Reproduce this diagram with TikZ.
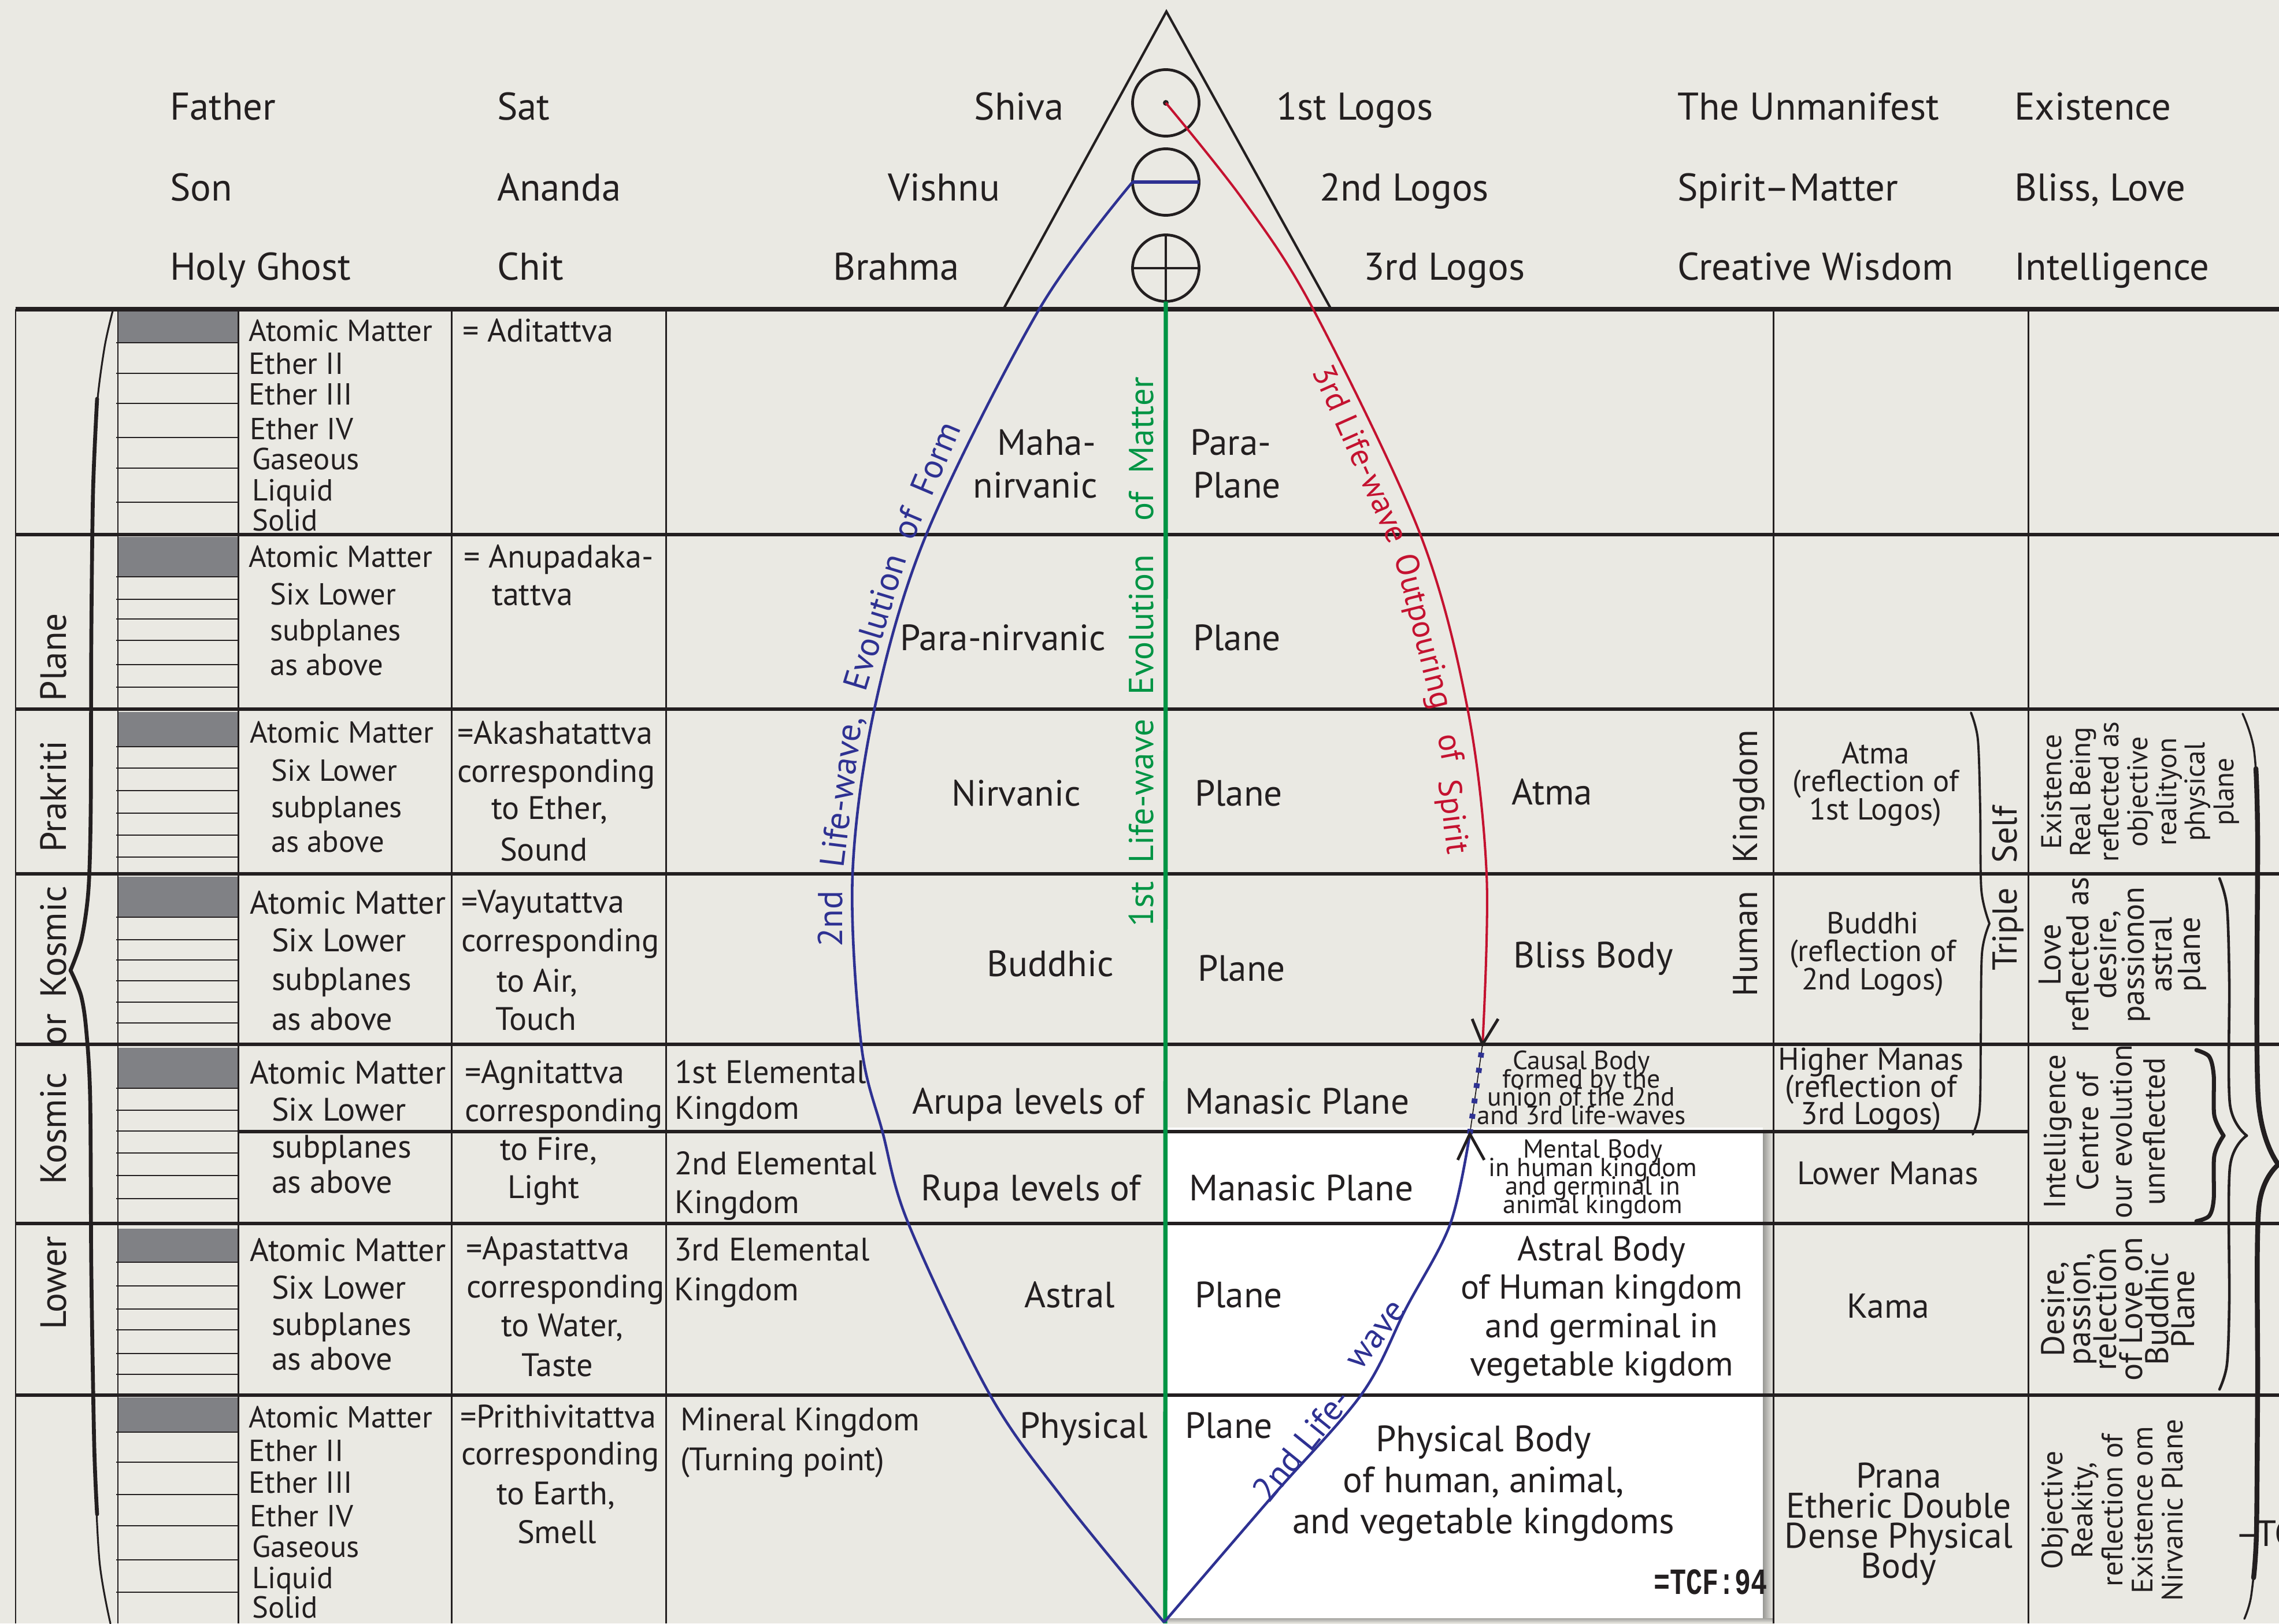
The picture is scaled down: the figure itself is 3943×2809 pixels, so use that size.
\documentclass[tikz,border=0pt]{standalone}
\usepackage{fontspec}
\usepackage{graphicx}
\setmainfont{PT Sans}
\newfontfamily\tcffont{Liberation Mono}
\definecolor{paper}{RGB}{234,233,227}
\definecolor{ink}{RGB}{35,31,32}
\definecolor{wavblue}{RGB}{46,49,146}
\definecolor{wavred}{RGB}{196,18,48}
\definecolor{wavgreen}{RGB}{0,148,68}
\definecolor{bargrey}{RGB}{128,129,133}
% font size with a fixed line pitch, even where lines come closer than their height
\newcommand{\fsz}[2]{\fontsize{#1pt}{#2pt}\selectfont\lineskiplimit=-100pt\lineskip=0pt}

\begin{document}
\begin{tikzpicture}[x=0.01cm, y=-0.01cm,
  every node/.style={inner sep=0pt, outer sep=0pt, text=ink},
  t19/.style={font=\fsz{19}{22}, text height=13.3pt, text depth=0pt},
  t18/.style={font=\fsz{18}{21}, text height=12.6pt, text depth=0pt},
  t17/.style={font=\fsz{17}{20}, text height=11.9pt, text depth=0pt},
  t16/.style={font=\fsz{16}{19}, text height=11.2pt, text depth=0pt},
  t15/.style={font=\fsz{15}{18}, text height=10.5pt, text depth=0pt},
  block/.style={align=center},
  rowline/.style={draw=ink, line width=1.45pt},
  colline/.style={draw=ink, line width=0.85pt},
  subline/.style={draw=ink, line width=0.6pt},
  symline/.style={draw=ink, line width=1.35pt},
  tipline/.style={draw=ink, line width=1.4pt},
  brace/.style={draw=ink, line cap=round, line join=round},
  sym/.style={circle, draw=ink, line width=1.35pt, minimum size=1.15cm},
  bluewave/.style={text=wavblue, font=\fsz{17}{20}, text height=11.9pt, text depth=0pt},
  redwave/.style={text=wavred, font=\fsz{16}{19}, text height=11.2pt, text depth=0pt},
  greenwave/.style={text=wavgreen, font=\fsz{17}{20}, text height=11.9pt, text depth=0pt},
]
\useasboundingbox (0,0) rectangle (3943,2809);
\fill[paper] (0,0) rectangle (3943,2809);

% white panel of the bodies, with its soft shadow
\shade[left color=black!35!paper, right color=paper] (3050,1955) rectangle (3068,2806);
\shade[top color=black!30!paper, bottom color=paper] (2020,2800) rectangle (3068,2809);
\fill[white] (2016,1951) rectangle (3050,2800);

% grey atomic subplanes
\foreach \a/\b in {537/593, 929/998, 1232/1292, 1517/1587, 1813/1883, 2126/2184, 2418/2478}
  \fill[bargrey] (205,\a) rectangle (411,\b);

% subplane rulings
\foreach \y in {593,646,698,757,810,869, 998,1037,1071,1108,1150,1189,
                1292,1329,1368,1407,1445,1483, 1587,1626,1661,1697,1734,1770,
                1883,1921,1957,1995,2034,2074, 2184,2225,2265,2301,2342,2378,
                2478,2530,2586,2640,2699,2755}
  \draw[subline] (201,\y) -- (412,\y);

% table columns
\foreach \x in {27,781,1152,3068,3509}
  \draw[colline] (\x,535) -- (\x,2809);
\draw[subline] (204,535) -- (204,2809);
\draw[colline] (412,535) -- (412,2809);

% table rows
\draw[ink, line width=2pt] (27,535) -- (3943,535);
\foreach \y in {925,1227,1512,1807,2117,2414}
  \draw[rowline] (27,\y) -- (3943,\y);
\draw[rowline] (412,1958) -- (3509,1958);

% triangle with the three symbols
\coordinate (apex) at (2018,20);
\coordinate (baseL) at (1736,535);
\coordinate (baseR) at (2303,535);
\draw[ink, line width=1.2pt] (baseL) -- (apex) -- (baseR);
\node[sym] (s1) at (2017,178) {};
\node[sym] (s2) at (2017,315) {};
\node[sym] (s3) at (2017,464) {};
\fill[ink] (s1.center) circle (0.05cm);
\draw[symline] (s3.north) -- (s3.south);
\draw[symline] (s3.west) -- (s3.east);

% life-waves
\coordinate (vbot) at (2014,2807);
\coordinate (lam) at (2543,1962);
\coordinate (vee) at (2565,1807);
\coordinate (gbot) at (2016,2809);
\draw[wavgreen, line width=2.1pt] (s3.south) -- (gbot);
\draw[wavblue, line width=1.6pt] (s2.west) -- (s2.east);
\draw[wavblue, line width=1.3pt] plot[smooth, tension=0.55] coordinates
  {(s2.west) (1798,535) (1603,924) (1513,1226) (1475,1513) (1490,1807)
   (1527,1959) (1572,2118) (1712,2412) (1840,2594) (vbot)};
\draw[wavblue, line width=1.3pt] plot[smooth, tension=0.55] coordinates
  {(vbot) (2197,2594) (2356,2412) (2433,2263) (2509,2118) (lam)};
\draw[wavred, line width=1.15pt] plot[smooth, tension=0.55] coordinates
  {(s1.center) (2150,345) (2272,535) (2457,924) (2539,1226) (2572,1513) (vee)};
\draw[ink, line width=0.5pt] (lam) -- (vee);
\draw[wavblue, line width=2.8pt, dash pattern=on 2.4pt off 5.2pt] (lam) -- (vee);
\draw[tipline] (2547,1763) -- (vee) -- (2592,1763);
\draw[tipline] (2522,2007) -- (lam) -- (2568,2007);

% braces
\draw[brace, line width=0.9pt] plot[smooth] coordinates
  {(195,538) (181,600) (168,700) (161,850) (158,1100) (157,1400) (153,1540) (141,1625) (122,1679)};
\draw[brace, line width=0.9pt] plot[smooth] coordinates
  {(122,1679) (140,1722) (149,1780) (156,1900) (158,2200) (163,2500) (172,2700) (191,2809)};
\draw[brace, line width=1.9pt] plot[smooth] coordinates
  {(168,690) (161,850) (158,1100) (157,1400) (153,1540) (141,1625) (122,1679)};
\draw[brace, line width=1.9pt] plot[smooth] coordinates
  {(122,1679) (140,1722) (149,1780) (156,1900) (158,2200) (163,2500) (168,2620)};

\draw[brace, line width=1.1pt] plot[smooth] coordinates
  {(3410,1233) (3422,1280) (3426,1400) (3428,1540) (3442,1598)};
\draw[brace, line width=1.1pt] plot[smooth] coordinates
  {(3442,1598) (3429,1650) (3427,1800) (3425,1920) (3413,1963)};

\draw[brace, line width=2pt] plot[smooth] coordinates
  {(3800,1817) (3822,1828) (3830,1860) (3831,1930) (3847,1965)};
\draw[brace, line width=2pt] plot[smooth] coordinates
  {(3847,1965) (3831,2000) (3830,2075) (3822,2104) (3800,2113)};

\draw[brace, line width=1.3pt] plot[smooth] coordinates
  {(3840,1520) (3853,1570) (3857,1700) (3858,1910) (3887,1965)};
\draw[brace, line width=1.3pt] plot[smooth] coordinates
  {(3887,1965) (3858,2020) (3857,2250) (3853,2360) (3840,2404)};

\draw[brace, line width=1pt] plot[smooth] coordinates
  {(3880,1235) (3900,1300) (3906,1450) (3907,1900) (3942,2015)};
\draw[brace, line width=1pt] plot[smooth] coordinates
  {(3942,2015) (3908,2090) (3906,2400) (3904,2650) (3895,2760) (3883,2801)};
\draw[brace, line width=2.4pt] plot[smooth] coordinates
  {(3903,1330) (3906,1450) (3907,1900) (3942,2015)};
\draw[brace, line width=2.4pt] plot[smooth] coordinates
  {(3942,2015) (3908,2090) (3906,2400) (3904,2650) (3899,2730)};

% heading rows
\foreach \t/\x/\y [count=\i] in {Father/294/184, Son/294/324, Holy Ghost/294/461,
    Sat/860/184, Ananda/860/324, Chit/860/461,
    1st Logos/2208/184, 2nd Logos/2283/324, 3rd Logos/2359/461,
    The Unmanifest/2902/184, Spirit--Matter/2902/324, Creative Wisdom/2902/461,
    Existence/3485/184, {Bliss, Love}/3485/324, Intelligence/3485/461}
  \node[t19, anchor=west] (hd\i) at (\x,\y) {\t};
\foreach \t/\x/\y [count=\i] in {Shiva/1841/184, Vishnu/1730/324, Brahma/1660/461}
  \node[t19, anchor=east] (god\i) at (\x,\y) {\t};

% kosmic planes label
\foreach \t/\y [count=\i] in {Plane/1137, Prakriti/1378, Kosmic/1630, or/1782, Kosmic/1953, Lower/2220}
  \node[t18, rotate=90] (kp\i) at (92,\y) {\t};

% subplanes
\foreach \t/\x/\y [count=\i] in {Atomic Matter/430/572, Ether II/430/629, Ether III/430/682,
    Ether IV/432/742, Gaseous/436/794, Liquid/436/848, Solid/436/900,
    Atomic Matter/430/963, Six Lower/467/1028, subplanes/467/1090, as above/467/1150,
    Atomic Matter/432/1267, Six Lower/469/1333, subplanes/469/1396, as above/469/1456,
    Atomic Matter/430/2452, Ether II/430/2510, Ether III/430/2565,
    Ether IV/432/2623, Gaseous/436/2676, Liquid/436/2730, Solid/436/2781}
  \node[t15, anchor=west] (sa\i) at (\x,\y) {\t};
\foreach \t/\x/\y [count=\i] in {Atomic Matter/432/1562, Six Lower/470/1627, subplanes/470/1694, as above/470/1763,
    Atomic Matter/432/1856, Six Lower/470/1920, subplanes/470/1984, as above/470/2045,
    Atomic Matter/432/2163, Six Lower/470/2228, subplanes/470/2291, as above/470/2351}
  \node[t16, anchor=west] (sb\i) at (\x,\y) {\t};

% tattvas
\foreach \t/\x/\y [count=\i] in {= Aditattva/800/572, = Anupadaka-/802/963, tattva/851/1028,
    =Akashatattva/791/1268, corresponding/791/1334, {to Ether,}/850/1398, Sound/865/1470,
    =Vayutattva/798/1560, corresponding/798/1627, {to Air,}/859/1697, Touch/857/1763,
    =Agnitattva/804/1855, corresponding/804/1921, {to Fire,}/865/1988, Light/878/2054,
    =Apastattva/806/2160, corresponding/807/2226, {to Water,}/867/2293, Taste/902/2362,
    =Prithivitattva/796/2451, corresponding/798/2515, {to Earth,}/859/2584, Smell/895/2651}
  \node[t16, anchor=west] (tv\i) at (\x,\y) {\t};

% elemental kingdoms
\foreach \t/\x/\y [count=\i] in {1st Elemental/1167/1855, Kingdom/1167/1917,
    2nd Elemental/1167/2013, Kingdom/1167/2080, 3rd Elemental/1166/2162, Kingdom/1166/2231,
    Mineral Kingdom/1177/2456, (Turning point)/1177/2525}
  \node[t16, anchor=west] (ek\i) at (\x,\y) {\t};

% planes
\foreach \t/\x/\y [count=\i] in {Maha-/1896/765, nirvanic/1899/839, Para-nirvanic/1913/1103,
    Nirvanic/1870/1372, Buddhic/1927/1667, Arupa levels of/1980/1905,
    Rupa levels of/1974/2055, Astral/1929/2240, Physical/1986/2466}
  \node[t18, anchor=east] (pl\i) at (\x,\y) {\t};
\foreach \t/\x/\y [count=\i] in {Para-/2059/765, Plane/2064/839, Plane/2064/1103,
    Plane/2067/1372, Plane/2072/1675, Manasic Plane/2050/1905, Manasic Plane/2057/2055,
    Plane/2067/2240, Plane/2050/2466, Atma/2615/1370, Bliss Body/2618/1652}
  \node[t18, anchor=west] (pr\i) at (\x,\y) {\t};

% bodies
\node[block, font=\fsz{13}{9}] (causal) at (2736,1882)
  {Causal Body\\formed by the\\union of the 2nd\\and 3rd life-waves};
\node[block, font=\fsz{12.8}{9.1}] (mental) at (2756,2040)
  {Mental Body\\in human kingdom\\and germinal in\\animal kingdom};
\node[block, font=\fsz{17}{18.8}] (astralb) at (2771,2266)
  {Astral Body\\of Human kingdom\\and germinal in\\vegetable kigdom};
\node[block, font=\fsz{18}{20.2}] (physb) at (2567,2567)
  {Physical Body\\of human, animal,\\and vegetable kingdoms};
\node[anchor=east, font=\tcffont\bfseries\fsz{14}{14}] (tcf) at (3058,2737) {\scalebox{0.95}[1.3]{=TCF:94}};

% human kingdom principles
\node[t17, rotate=90] (hk1) at (3020,1378) {Kingdom};
\node[t17, rotate=90] (hk2) at (3020,1633) {Human};
\node[block, font=\fsz{15}{13.7}] (atma) at (3245,1357) {Atma\\(reflection of\\1st Logos)};
\node[block, font=\fsz{15}{13.7}] (buddhi) at (3240,1651) {Buddhi\\(reflection of\\2nd Logos)};
\node[block, font=\fsz{15.5}{13.3}] (hmanas) at (3237,1885) {Higher Manas\\(reflection of\\3rd Logos)};
\node[t16] (lmanas) at (3266,2030) {Lower Manas};
\node[t17] (kama) at (3267,2260) {Kama};
\node[block, font=\fsz{17.5}{14.8}] (prana) at (3285,2637) {Prana\\Etheric Double\\Dense Physical\\Body};
\node[t17, rotate=90] (ts1) at (3469,1444) {Self};
\node[t17, rotate=90] (ts2) at (3469,1608) {Triple};

% reflections
\node[block, rotate=90, font=\fsz{14}{14.1}] (rf1) at (3703,1370)
  {Existence\\Real Being\\reflected as\\objective\\realityon\\physical\\plane};
\node[block, rotate=90, font=\fsz{15.5}{13.7}] (rf2) at (3672,1652)
  {Love\\reflected as\\desire,\\passionon\\astral\\plane};
\node[block, rotate=90, font=\fsz{15}{16.3}] (rf3) at (3641,1958)
  {Intelligence\\Centre of\\our evolution\\unreflected};
\node[block, rotate=90, font=\fsz{16}{12.8}] (rf4) at (3664,2265)
  {Desire,\\passion,\\relection\\of Love on\\Buddhic\\Plane};
\node[block, rotate=90, font=\fsz{14.5}{14.8}] (rf5) at (3655,2613)
  {Objective\\Reakity,\\reflection of\\Existence om\\Nirvanic Plane};
\node[t18, anchor=west] (tcf2) at (3867,2653) {--TCF:94};

% wave captions
\node[bluewave, rotate=90] (bw1) at (1437,1590) {2nd};
\node[bluewave, rotate=83] (bw2) at (1455,1370) {Life-wave,};
\node[bluewave, rotate=73] (bw3) at (1513,1076) {Evolution};
\node[bluewave, rotate=67] (bw4) at (1602,831) {of\ \ Form};
\node[bluewave, rotate=51] (bw5) at (2252,2500) {2nd\ Life-};
\node[bluewave, rotate=53] (bw6) at (2378,2307) {wave};
\node[greenwave, rotate=90] (gw1) at (1975,1424) {1st\ \ Life-wave};
\node[greenwave, rotate=90] (gw2) at (1975,1081) {Evolution};
\node[greenwave, rotate=90] (gw3) at (1975,777) {of\ \ Matter};
\node[redwave, rotate=-66] (rw1) at (2355,785) {3rd Life-wave};
\node[redwave, rotate=-76] (rw2) at (2465,1092) {Outpouring};
\node[redwave, rotate=-79] (rw3) at (2511,1293) {of};
\node[redwave, rotate=-83] (rw4) at (2516,1413) {Spirit};
\end{tikzpicture}
\end{document}
